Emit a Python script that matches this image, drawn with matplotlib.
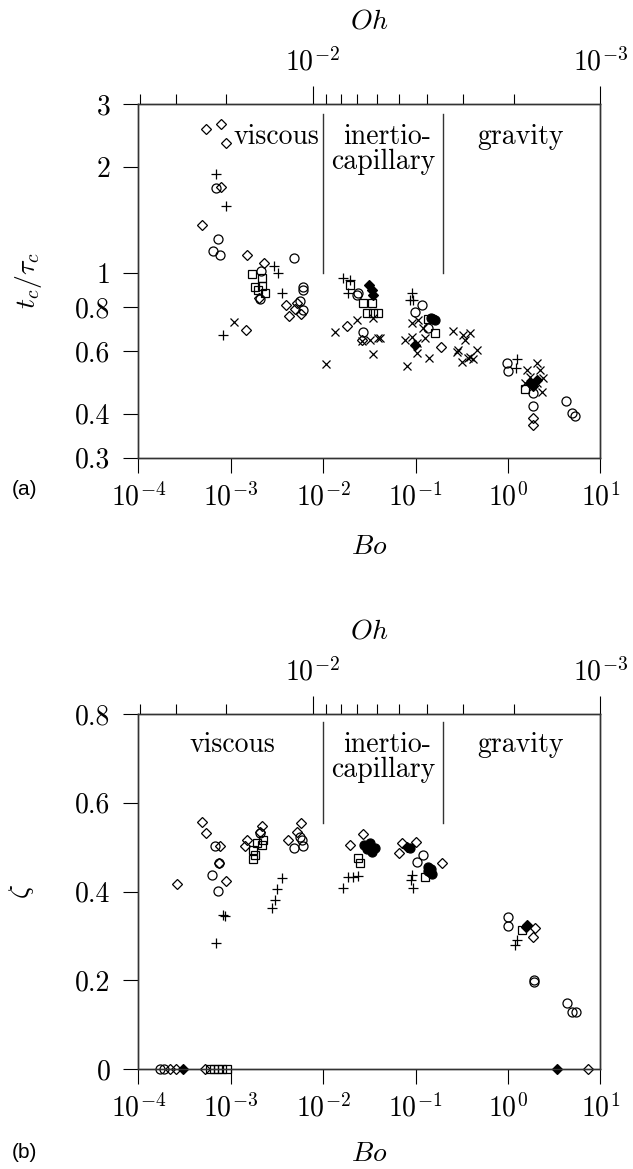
"""
Bubble collapse time and zeta versus Bond number, two stacked panels.
"""

import matplotlib
matplotlib.use('Agg')
import matplotlib.pyplot as plt
from matplotlib.ticker import FixedLocator, FixedFormatter, NullLocator, NullFormatter

plt.rcParams['mathtext.fontset'] = 'cm'
plt.rcParams['font.family'] = ['cmr10']
plt.rcParams['axes.formatter.use_mathtext'] = True
plt.rcParams['axes.unicode_minus'] = False

# ---- panel (a): t_c / tau_c ----
a_diam_bo = [5.4e-4, 7.8e-4, 8.9e-4, 4.9e-4, 7.8e-4, 1.51e-3, 2.29e-3, 2.0e-3, 4.0e-3, 5.0e-3,
             4.3e-3, 5.7e-3, 5.2e-3, 1.47e-3, 1.82e-2, 2.64e-2, 0.189, 1.88, 1.88]
a_diam_t = [2.55, 2.63, 2.33, 1.37, 1.75, 1.12, 1.07, 0.85, 0.81, 0.79,
            0.757, 0.765, 0.82, 0.69, 0.708, 0.646, 0.616, 0.388, 0.371]

a_fdiam_bo = [3.16e-2, 3.36e-2, 3.5e-2, 9.9e-2, 1.73, 2.05, 1.88]
a_fdiam_t = [0.924, 0.895, 0.866, 0.625, 0.487, 0.498, 0.477]

a_fcirc_bo = [0.163, 0.147, 0.155]
a_fcirc_t = [0.736, 0.745, 0.74]

a_circ_bo = [6.9e-4, 7.2e-4, 6.4e-4, 7.7e-4, 4.8e-3, 2.13e-3, 2.07e-3, 6.0e-3, 6.0e-3, 5.6e-3,
             6.1e-3, 2.72e-2, 2.4e-2, 2.31e-2, 0.117, 0.099, 0.138, 0.97, 0.99, 1.88,
             1.88, 4.25, 4.9, 5.3]
a_circ_t = [1.74, 1.25, 1.15, 1.12, 1.10, 1.01, 0.842, 0.914, 0.895, 0.834,
            0.785, 0.682, 0.876, 0.866, 0.811, 0.777, 0.697, 0.557, 0.529, 0.456,
            0.42, 0.434, 0.402, 0.394]

a_plus_bo = [6.9e-4, 8.9e-4, 2.94e-3, 3.25e-3, 3.6e-3, 8.3e-4, 1.66e-2, 1.95e-2, 1.87e-2, 9.1e-2,
             9.3e-2, 8.7e-2, 1.25, 1.22]
a_plus_t = [1.91, 1.55, 1.046, 1.0, 0.879, 0.667, 0.965, 0.955, 0.876, 0.876,
            0.838, 0.84, 0.57, 0.537]

a_sq_bo = [1.69e-3, 2.16e-3, 1.83e-3, 2.16e-3, 2.35e-3, 1.98e-3, 1.95e-2, 2.97e-2, 3.5e-2, 3.95e-2,
           2.72e-2, 3.36e-2, 0.138, 0.163, 1.53]
a_sq_t = [0.993, 0.965, 0.914, 0.918, 0.879, 0.895, 0.924, 0.769, 0.769, 0.769,
          0.82, 0.82, 0.739, 0.675, 0.469]

a_x_bo = [1.09e-3, 1.07e-2, 1.35e-2, 2.65e-2, 3.5e-2, 3.95e-2, 2.31e-2, 3.5e-2, 4.1e-2, 3.2e-2,
          0.091, 0.107, 0.121, 0.077, 0.091, 0.103, 0.127, 0.103, 0.141, 0.081,
          0.253, 0.329, 0.389, 0.343, 0.29, 0.279, 0.459, 0.372, 0.423, 0.316,
          0.389, 2.05, 1.6, 2.22, 1.73, 2.42, 1.53, 2.05, 2.32]
a_x_t = [0.728, 0.551, 0.679, 0.642, 0.59, 0.653, 0.736, 0.744, 0.653, 0.646,
         0.72, 0.736, 0.697, 0.646, 0.66, 0.632, 0.653, 0.592, 0.573, 0.546,
         0.685, 0.667, 0.675, 0.646, 0.605, 0.599, 0.605, 0.573, 0.569, 0.561,
         0.579, 0.555, 0.531, 0.531, 0.508, 0.503, 0.487, 0.487, 0.461]

# ---- panel (b): zeta ----
b_diam_bo = [4.85e-4, 5.4e-4, 2.6e-4, 7.7e-4, 7.5e-4, 8.8e-4, 1.49e-3, 1.43e-3, 2.2e-3, 2.07e-3,
             5.2e-3, 5.7e-3, 4.2e-3, 1.95e-2, 2.72e-2, 7.1e-2, 6.7e-2, 0.1, 0.192, 1.96,
             1.88, 2.2e-4, 2.56e-4, 5.3e-4, 7.4]
b_diam_z = [0.557, 0.531, 0.418, 0.503, 0.464, 0.424, 0.516, 0.503, 0.548, 0.535,
            0.535, 0.555, 0.516, 0.505, 0.530, 0.509, 0.486, 0.512, 0.465, 0.317,
            0.298, 0.0, 0.0, 0.0, 0.0]

b_circ_bo = [6.8e-4, 7.5e-4, 6.2e-4, 7.2e-4, 2.07e-3, 4.8e-3, 5.9e-3, 6.1e-3, 5.6e-3, 0.121,
             0.103, 0.99, 0.99, 1.93, 1.93, 4.3, 4.9, 5.45, 1.72e-4, 1.9e-4]
b_circ_z = [0.503, 0.464, 0.437, 0.402, 0.531, 0.497, 0.516, 0.503, 0.523, 0.482,
            0.467, 0.342, 0.322, 0.2006, 0.197, 0.149, 0.129, 0.129, 0.0, 0.0]

b_plus_bo = [8.3e-4, 8.7e-4, 6.9e-4, 3.56e-3, 3.15e-3, 3.0e-3, 2.78e-3, 1.63e-2, 1.87e-2, 2.12e-2,
             2.4e-2, 9.1e-2, 8.9e-2, 9.3e-2, 1.25, 1.19]
b_plus_z = [0.347, 0.345, 0.285, 0.431, 0.405, 0.381, 0.364, 0.409, 0.433, 0.433,
            0.435, 0.437, 0.426, 0.407, 0.291, 0.279]

b_sq_bo = [1.76e-3, 1.83e-3, 1.76e-3, 1.91e-3, 2.16e-3, 2.25e-3, 2.52e-2, 2.4e-2, 0.127, 1.41,
           6.0e-4, 6.6e-4, 7.3e-4, 8.0e-4, 9.1e-4]
b_sq_z = [0.494, 0.482, 0.473, 0.509, 0.505, 0.516, 0.464, 0.475, 0.433, 0.313,
          0.0, 0.0, 0.0, 0.0, 0.0]

b_fcirc_bo = [2.8e-2, 3.0e-2, 3.2e-2, 3.4e-2, 3.2e-2, 3.6e-2, 0.138, 0.143, 0.147, 0.15,
              0.135, 8.7e-2]
b_fcirc_z = [0.505, 0.495, 0.50, 0.49, 0.51, 0.497, 0.456, 0.445, 0.45, 0.44,
             0.447, 0.497]

b_fdiam_bo = [8.0e-2, 1.57, 1.6, 3.05e-4, 3.4]
b_fdiam_z = [0.50, 0.319, 0.325, 0.0, 0.0]

bo_limits = [1e-2, 0.2]
oh_coef = 10 ** -2.6787
oh_exp = -0.3213


def oh_of_bo(bo):
    return oh_coef * bo ** oh_exp


def style_markers(ax, sets):
    for bo, val, m, ms, filled in sets:
        ax.plot(bo, val, linestyle='none', marker=m, markersize=ms,
                markerfacecolor='black' if filled else 'none',
                markeredgecolor='black', markeredgewidth=0.9, clip_on=False, zorder=3)


def setup_axes(ax):
    ax.set_xscale('log')
    ax.set_xlim(1e-4, 1e1)
    ax.xaxis.set_major_locator(FixedLocator([1e-4, 1e-3, 1e-2, 1e-1, 1e0, 1e1]))
    ax.xaxis.set_major_formatter(FixedFormatter([r'$10^{-4}$', r'$10^{-3}$', r'$10^{-2}$',
                                                 r'$10^{-1}$', r'$10^{0}$', r'$10^{1}$']))
    ax.xaxis.set_minor_locator(NullLocator())
    ax.tick_params(which='major', direction='out', length=11, width=0.8,
                   labelsize=20, top=False, right=False)
    ax.tick_params(axis='x', pad=7)
    ax.tick_params(axis='y', pad=9)
    for s in ax.spines.values():
        s.set_linewidth(1.0)
        s.set_color('#333333')
    ax.set_xlabel(r'$Bo$', fontsize=20)

    top = ax.twiny()
    top.set_xscale('log')
    top.set_xlim(oh_of_bo(1e-4), oh_of_bo(1e1))
    top.xaxis.set_major_locator(FixedLocator([1e-2, 1e-3]))
    top.xaxis.set_major_formatter(FixedFormatter([r'$10^{-2}$', r'$10^{-3}$']))
    top.xaxis.set_minor_locator(FixedLocator([0.02, 0.03, 0.04] +
                                             [k * 1e-3 for k in range(2, 10)]))
    top.xaxis.set_minor_formatter(NullFormatter())
    top.tick_params(which='major', direction='out', length=13, width=0.8, labelsize=20, pad=7)
    top.tick_params(which='minor', direction='out', length=7, width=0.8)
    for s in top.spines.values():
        s.set_linewidth(1.0)
        s.set_color('#333333')
    top.set_xlabel(r'$Oh$', fontsize=20, labelpad=14)
    return top


fig = plt.figure(figsize=(6.33, 11.69), dpi=100)

# ---------- (a) ----------
ax1 = fig.add_axes([0.2185, 0.6085, 0.730, 0.3023])
style_markers(ax1, [
    (a_diam_bo, a_diam_t, 'D', 5.5, False),
    (a_circ_bo, a_circ_t, 'o', 6.5, False),
    (a_plus_bo, a_plus_t, '+', 7.5, False),
    (a_sq_bo, a_sq_t, 's', 5.5, False),
    (a_x_bo, a_x_t, 'x', 6.0, False),
    (a_fdiam_bo, a_fdiam_t, 'D', 5.5, True),
    (a_fcirc_bo, a_fcirc_t, 'o', 6.5, True),
])
ax1.set_yscale('log')
ax1.set_ylim(0.3, 3)
ax1.yaxis.set_major_locator(FixedLocator([0.3, 0.4, 0.6, 0.8, 1, 2, 3]))
ax1.yaxis.set_major_formatter(FixedFormatter(['0.3', '0.4', '0.6', '0.8', '1', '2', '3']))
ax1.yaxis.set_minor_locator(NullLocator())
setup_axes(ax1)
ax1.set_ylabel(r'$t_c/\tau_c$', fontsize=20)
ax1.yaxis.set_label_coords(-0.205, 0.5)
ax1.xaxis.set_label_coords(0.5, -0.215)
for b in bo_limits:
    ax1.plot([b, b], [1.0, 2.82], color='#333333', lw=1.0)
ax1.text(0.298, 0.888, 'viscous', transform=ax1.transAxes, ha='center', va='baseline', fontsize=20)
ax1.text(0.538, 0.888, 'inertio-', transform=ax1.transAxes, ha='center', va='baseline', fontsize=20)
ax1.text(0.531, 0.817, 'capillary', transform=ax1.transAxes, ha='center', va='baseline', fontsize=20)
ax1.text(0.827, 0.888, 'gravity', transform=ax1.transAxes, ha='center', va='baseline', fontsize=20)

# ---------- (b) ----------
ax2 = fig.add_axes([0.2185, 0.0855, 0.730, 0.3037])
style_markers(ax2, [
    (b_diam_bo, b_diam_z, 'D', 5.5, False),
    (b_circ_bo, b_circ_z, 'o', 6.5, False),
    (b_plus_bo, b_plus_z, '+', 7.5, False),
    (b_sq_bo, b_sq_z, 's', 5.5, False),
    (b_fdiam_bo, b_fdiam_z, 'D', 5.5, True),
    (b_fcirc_bo, b_fcirc_z, 'o', 6.5, True),
])
ax2.set_ylim(0, 0.8)
ax2.yaxis.set_major_locator(FixedLocator([0, 0.2, 0.4, 0.6, 0.8]))
ax2.yaxis.set_major_formatter(FixedFormatter(['0', '0.2', '0.4', '0.6', '0.8']))
ax2.yaxis.set_minor_locator(NullLocator())
setup_axes(ax2)
ax2.set_ylabel(r'$\zeta$', fontsize=20)
ax2.yaxis.set_label_coords(-0.222, 0.5)
ax2.xaxis.set_label_coords(0.5, -0.202)
for b in bo_limits:
    ax2.plot([b, b], [0.554, 0.783], color='#333333', lw=1.0)
ax2.text(0.203, 0.892, 'viscous', transform=ax2.transAxes, ha='center', va='baseline', fontsize=20)
ax2.text(0.538, 0.892, 'inertio-', transform=ax2.transAxes, ha='center', va='baseline', fontsize=20)
ax2.text(0.531, 0.823, 'capillary', transform=ax2.transAxes, ha='center', va='baseline', fontsize=20)
ax2.text(0.828, 0.892, 'gravity', transform=ax2.transAxes, ha='center', va='baseline', fontsize=20)

fig.text(0.019, 0.581, '(a)', fontsize=15, family='Liberation Sans', va='center')
fig.text(0.019, 0.014, '(b)', fontsize=15, family='Liberation Sans', va='center')

fig.savefig('out.png', dpi=100)
